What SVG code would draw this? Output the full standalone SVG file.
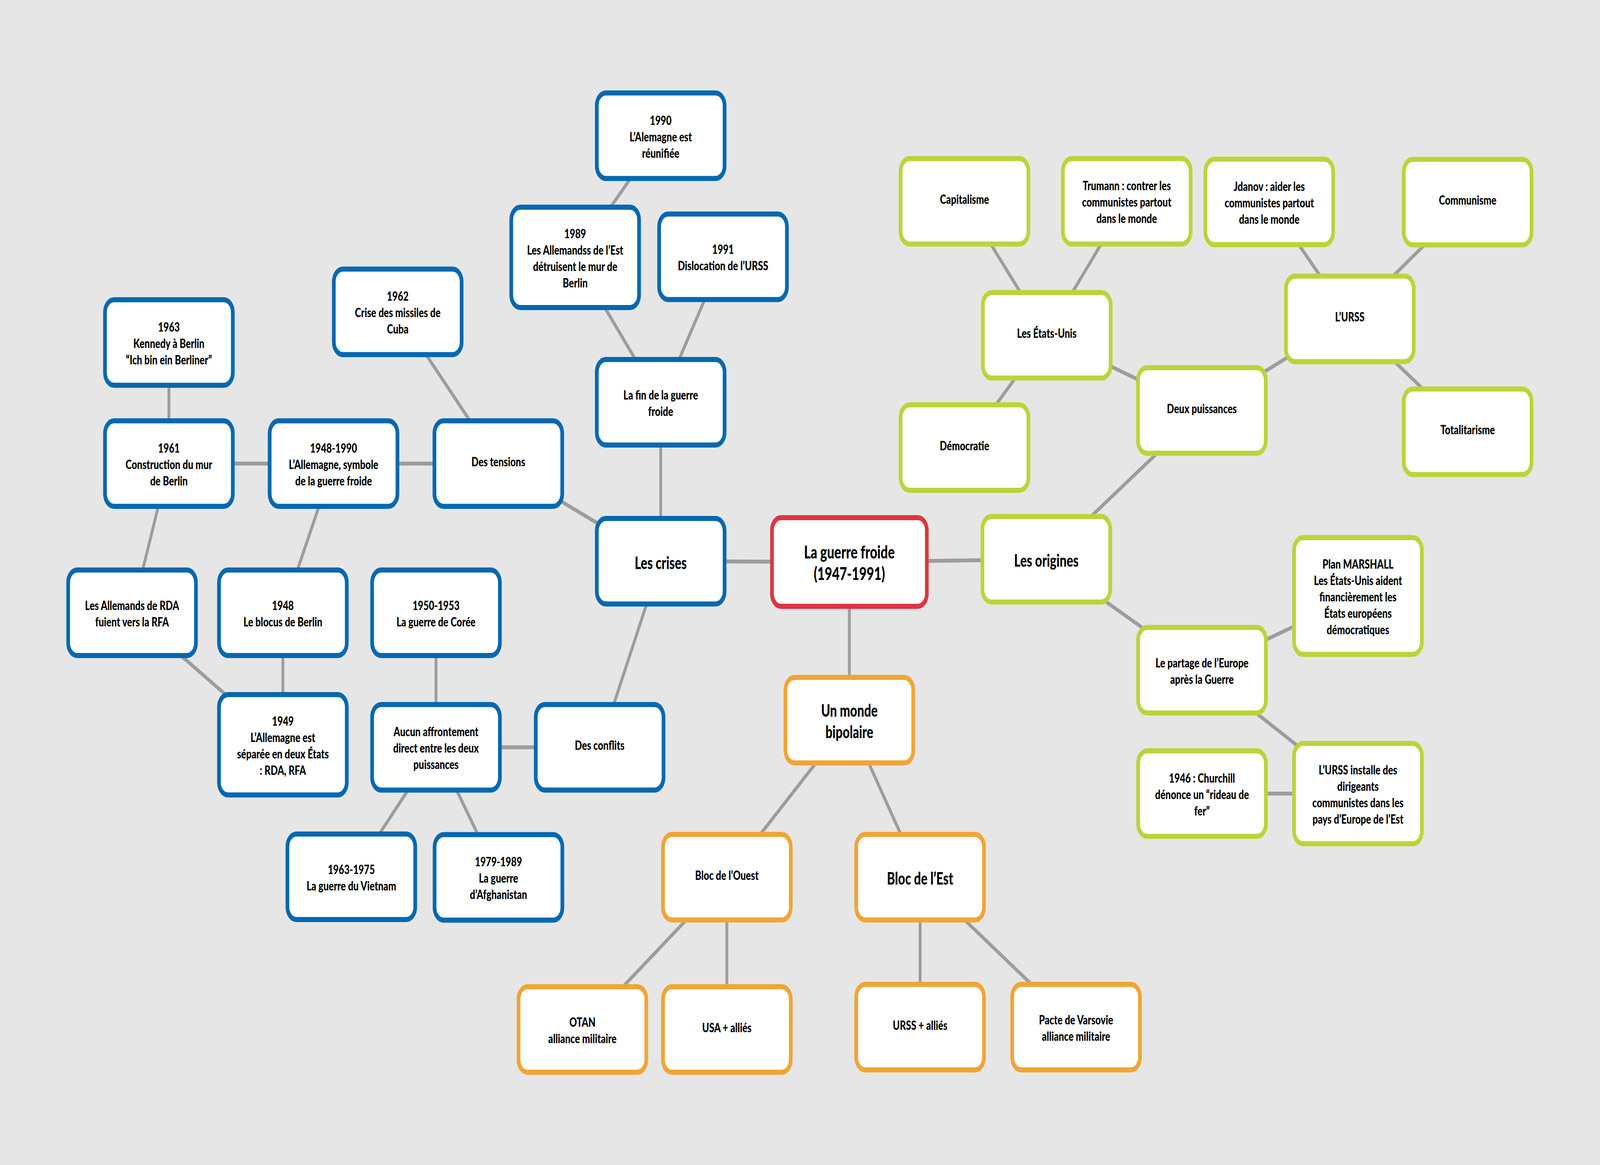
<svg xmlns="http://www.w3.org/2000/svg" width="5622" height="2983" viewBox="0 0 5622 2983" preserveAspectRatio="none">
<style>
svg{width:100vw;height:100vh}
.bg{fill:#E6E6E6}
.n{fill:#FFFFFF;stroke-width:13}
.b{stroke:#0568B1}
.g{stroke:#BDD33A}
.o{stroke:#F0A536}
.r{stroke:#DC3640}
#connectors line{stroke:#9D9D9D;stroke-width:10;stroke-linecap:butt}
text{font-family:Lato,"Noto Sans","Liberation Sans",sans-serif;font-weight:900;fill:#000;text-anchor:middle}
.s{font-size:33px}
.L{font-size:43px}
.C{font-size:45px}
</style>
<rect class="bg" x="0" y="0" width="5622" height="2983"/>
<g id="connectors">
<line x1="2984.5" y1="1439" x2="2321.5" y2="1437"/>
<line x1="2984.5" y1="1439" x2="3676.5" y2="1432"/>
<line x1="2984.5" y1="1439" x2="2984.5" y2="1844"/>
<line x1="2321.5" y1="1437" x2="2321.5" y2="1030"/>
<line x1="2321.5" y1="1437" x2="1751" y2="1187"/>
<line x1="2321.5" y1="1437" x2="2107" y2="1913.5"/>
<line x1="2321.5" y1="1030" x2="2021" y2="659"/>
<line x1="2321.5" y1="1030" x2="2540.5" y2="657.5"/>
<line x1="2021" y1="659" x2="2321.5" y2="347.5"/>
<line x1="1751" y1="1187" x2="1397.5" y2="798.5"/>
<line x1="1751" y1="1187" x2="1172" y2="1187"/>
<line x1="1172" y1="1187" x2="593.5" y2="1187"/>
<line x1="1172" y1="1187" x2="994" y2="1569"/>
<line x1="593.5" y1="1187" x2="593.5" y2="877"/>
<line x1="593.5" y1="1187" x2="464" y2="1569"/>
<line x1="464" y1="1569" x2="994" y2="1907"/>
<line x1="994" y1="1569" x2="994" y2="1907"/>
<line x1="2107" y1="1913.5" x2="1532" y2="1913.5"/>
<line x1="1532" y1="1913.5" x2="1532" y2="1569"/>
<line x1="1532" y1="1913.5" x2="1234.5" y2="2245"/>
<line x1="1532" y1="1913.5" x2="1751.5" y2="2246.5"/>
<line x1="2984.5" y1="1844" x2="2554" y2="2246"/>
<line x1="2984.5" y1="1844" x2="3233" y2="2246"/>
<line x1="2554" y1="2246" x2="2046.5" y2="2636"/>
<line x1="2554" y1="2246" x2="2554" y2="2636"/>
<line x1="3233" y1="2246" x2="3233" y2="2630"/>
<line x1="3233" y1="2246" x2="3781" y2="2630"/>
<line x1="3676.5" y1="1432" x2="4223" y2="1051"/>
<line x1="3676.5" y1="1432" x2="4223.5" y2="1716"/>
<line x1="4223" y1="1051" x2="3678" y2="858.5"/>
<line x1="4223" y1="1051" x2="4743" y2="816.5"/>
<line x1="3678" y1="858.5" x2="3389" y2="515.5"/>
<line x1="3678" y1="858.5" x2="3959" y2="515.5"/>
<line x1="3678" y1="858.5" x2="3389" y2="1146"/>
<line x1="4743" y1="816.5" x2="4460" y2="517"/>
<line x1="4743" y1="816.5" x2="5157" y2="517.5"/>
<line x1="4743" y1="816.5" x2="5157" y2="1105.5"/>
<line x1="4223.5" y1="1716" x2="4771.5" y2="1526"/>
<line x1="4223.5" y1="1716" x2="4771.5" y2="2032"/>
<line x1="4771.5" y1="2032" x2="4223.5" y2="2032"/>
</g>

<g id="n-center"><rect class="n r" x="2712.5" y="1325.5" width="544" height="227" rx="32"/>
<text class="C" x="2984.5" y="1430.5">La guerre froide</text><text class="C" x="2984.5" y="1485.5">(1947-1991)</text></g>

<g id="n-1990"><rect class="n b" x="2097" y="238" width="449" height="219" rx="32"/>
<text class="s" x="2321.5" y="320">1990</text><text class="s" x="2321.5" y="362">L’Alemagne est</text><text class="s" x="2321.5" y="404">réunifiée</text></g>
<g id="n-1989"><rect class="n b" x="1796.5" y="530.5" width="449" height="257" rx="32"/>
<text class="s" x="2021" y="610">1989</text><text class="s" x="2021" y="652">Les Allemandss de l’Est</text><text class="s" x="2021" y="694">détruisent le mur de</text><text class="s" x="2021" y="736">Berlin</text></g>
<g id="n-1991"><rect class="n b" x="2316" y="548" width="449" height="219" rx="32"/>
<text class="s" x="2540.5" y="650.5">1991</text><text class="s" x="2540.5" y="692.5">Dislocation de l’URSS</text></g>
<g id="n-1962"><rect class="n b" x="1173" y="689" width="449" height="219" rx="32"/>
<text class="s" x="1397.5" y="770.5">1962</text><text class="s" x="1397.5" y="812.5">Crise des missiles de</text><text class="s" x="1397.5" y="854.5">Cuba</text></g>
<g id="n-1963"><rect class="n b" x="369" y="767.5" width="449" height="219" rx="32"/>
<text class="s" x="593.5" y="849">1963</text><text class="s" x="593.5" y="891">Kennedy à Berlin</text><text class="s" x="593.5" y="933">“Ich bin ein Berliner”</text></g>
<g id="n-fin"><rect class="n b" x="2097" y="920.5" width="449" height="219" rx="32"/>
<text class="s" x="2321.5" y="1023">La fin de la guerre</text><text class="s" x="2321.5" y="1065">froide</text></g>
<g id="n-1961"><rect class="n b" x="369" y="1077.5" width="449" height="219" rx="32"/>
<text class="s" x="593.5" y="1159">1961</text><text class="s" x="593.5" y="1201">Construction du mur</text><text class="s" x="593.5" y="1243">de Berlin</text></g>
<g id="n-1948-1990"><rect class="n b" x="947.5" y="1077.5" width="449" height="219" rx="32"/>
<text class="s" x="1172" y="1159">1948-1990</text><text class="s" x="1172" y="1201">L’Allemagne, symbole</text><text class="s" x="1172" y="1243">de la guerre froide</text></g>
<g id="n-tensions"><rect class="n b" x="1526.5" y="1077.5" width="449" height="219" rx="32"/>
<text class="s" x="1751" y="1194">Des tensions</text></g>
<g id="n-crises"><rect class="n b" x="2097" y="1327.5" width="449" height="219" rx="32"/>
<text class="L" x="2321.5" y="1457">Les crises</text></g>
<g id="n-rda"><rect class="n b" x="239.5" y="1459.5" width="449" height="219" rx="32"/>
<text class="s" x="464" y="1562">Les Allemands de RDA</text><text class="s" x="464" y="1604">fuient vers la RFA</text></g>
<g id="n-1948"><rect class="n b" x="769.5" y="1459.5" width="449" height="219" rx="32"/>
<text class="s" x="994" y="1562">1948</text><text class="s" x="994" y="1604">Le blocus de Berlin</text></g>
<g id="n-coree"><rect class="n b" x="1307.5" y="1459.5" width="449" height="219" rx="32"/>
<text class="s" x="1532" y="1562">1950-1953</text><text class="s" x="1532" y="1604">La guerre de Corée</text></g>
<g id="n-1949"><rect class="n b" x="769.5" y="1778.5" width="449" height="257" rx="32"/>
<text class="s" x="994" y="1858">1949</text><text class="s" x="994" y="1900">L’Allemagne est</text><text class="s" x="994" y="1942">séparée en deux États</text><text class="s" x="994" y="1984">: RDA, RFA</text></g>
<g id="n-aucun"><rect class="n b" x="1307.5" y="1804" width="449" height="219" rx="32"/>
<text class="s" x="1532" y="1885.5">Aucun affrontement</text><text class="s" x="1532" y="1927.5">direct entre les deux</text><text class="s" x="1532" y="1969.5">puissances</text></g>
<g id="n-conflits"><rect class="n b" x="1882.5" y="1804" width="449" height="219" rx="32"/>
<text class="s" x="2107" y="1920.5">Des conflits</text></g>
<g id="n-vietnam"><rect class="n b" x="1010" y="2135.5" width="449" height="219" rx="32"/>
<text class="s" x="1234.5" y="2238">1963-1975</text><text class="s" x="1234.5" y="2280">La guerre du Vietnam</text></g>
<g id="n-afghanistan"><rect class="n b" x="1527" y="2137" width="449" height="219" rx="32"/>
<text class="s" x="1751.5" y="2218.5">1979-1989</text><text class="s" x="1751.5" y="2260.5">La guerre</text><text class="s" x="1751.5" y="2302.5">d’Afghanistan</text></g>

<g id="n-bipolaire"><rect class="n o" x="2760" y="1734.5" width="449" height="219" rx="32"/>
<text class="L" x="2984.5" y="1835.5">Un monde</text><text class="L" x="2984.5" y="1890.5">bipolaire</text></g>
<g id="n-ouest"><rect class="n o" x="2329.5" y="2136.5" width="449" height="219" rx="32"/>
<text class="s" x="2554" y="2253">Bloc de l’Ouest</text></g>
<g id="n-est"><rect class="n o" x="3008.5" y="2136.5" width="449" height="219" rx="32"/>
<text class="L" x="3233" y="2265">Bloc de l’Est</text></g>
<g id="n-otan"><rect class="n o" x="1822" y="2526.5" width="449" height="219" rx="32"/>
<text class="s" x="2046.5" y="2629">OTAN</text><text class="s" x="2046.5" y="2671">alliance militaire</text></g>
<g id="n-usa"><rect class="n o" x="2329.5" y="2526.5" width="449" height="219" rx="32"/>
<text class="s" x="2554" y="2643">USA + alliés</text></g>
<g id="n-urss-allies"><rect class="n o" x="3008.5" y="2520.5" width="449" height="219" rx="32"/>
<text class="s" x="3233" y="2637">URSS + alliés</text></g>
<g id="n-varsovie"><rect class="n o" x="3556.5" y="2520.5" width="449" height="219" rx="32"/>
<text class="s" x="3781" y="2623">Pacte de Varsovie</text><text class="s" x="3781" y="2665">alliance militaire</text></g>

<g id="n-capitalisme"><rect class="n g" x="3164.5" y="406" width="449" height="219" rx="32"/>
<text class="s" x="3389" y="522.5">Capitalisme</text></g>
<g id="n-trumann"><rect class="n g" x="3734.5" y="406" width="449" height="219" rx="32"/>
<text class="s" x="3959" y="487.5">Trumann : contrer les</text><text class="s" x="3959" y="529.5">communistes partout</text><text class="s" x="3959" y="571.5">dans le monde</text></g>
<g id="n-jdanov"><rect class="n g" x="4235.5" y="407.5" width="449" height="219" rx="32"/>
<text class="s" x="4460" y="489">Jdanov : aider les</text><text class="s" x="4460" y="531">communistes partout</text><text class="s" x="4460" y="573">dans le monde</text></g>
<g id="n-communisme"><rect class="n g" x="4932.5" y="408" width="449" height="219" rx="32"/>
<text class="s" x="5157" y="524.5">Communisme</text></g>
<g id="n-etats-unis"><rect class="n g" x="3453.5" y="749" width="449" height="219" rx="32"/>
<text class="s" x="3678" y="865.5">Les États-Unis</text></g>
<g id="n-urss"><rect class="n g" x="4518.5" y="707" width="449" height="219" rx="32"/>
<text class="s" x="4743" y="823.5">L’URSS</text></g>
<g id="n-democratie"><rect class="n g" x="3164.5" y="1036.5" width="449" height="219" rx="32"/>
<text class="s" x="3389" y="1153">Démocratie</text></g>
<g id="n-deux"><rect class="n g" x="3998.5" y="941.5" width="449" height="219" rx="32"/>
<text class="s" x="4223" y="1058">Deux puissances</text></g>
<g id="n-totalitarisme"><rect class="n g" x="4932.5" y="996" width="449" height="219" rx="32"/>
<text class="s" x="5157" y="1112.5">Totalitarisme</text></g>
<g id="n-origines"><rect class="n g" x="3452" y="1322.5" width="449" height="219" rx="32"/>
<text class="L" x="3676.5" y="1451">Les origines</text></g>
<g id="n-marshall"><rect class="n g" x="4547" y="1376.5" width="449" height="299" rx="32"/>
<text class="s" x="4771.5" y="1456">Plan MARSHALL</text><text class="s" x="4771.5" y="1498">Les États-Unis aident</text><text class="s" x="4771.5" y="1540">financièrement les</text><text class="s" x="4771.5" y="1582">États européens</text><text class="s" x="4771.5" y="1624">démocratiques</text></g>
<g id="n-partage"><rect class="n g" x="3999" y="1606.5" width="449" height="219" rx="32"/>
<text class="s" x="4223.5" y="1709">Le partage de l’Europe</text><text class="s" x="4223.5" y="1751">après la Guerre</text></g>
<g id="n-churchill"><rect class="n g" x="3999" y="1922.5" width="449" height="219" rx="32"/>
<text class="s" x="4223.5" y="2004">1946 : Churchill</text><text class="s" x="4223.5" y="2046">dénonce un “rideau de</text><text class="s" x="4223.5" y="2088">fer”</text></g>
<g id="n-urss-installe"><rect class="n g" x="4547" y="1903.5" width="449" height="257" rx="32"/>
<text class="s" x="4771.5" y="1983">L’URSS installe des</text><text class="s" x="4771.5" y="2025">dirigeants</text><text class="s" x="4771.5" y="2067">communistes dans les</text><text class="s" x="4771.5" y="2109">pays d’Europe de l’Est</text></g>
</svg>
